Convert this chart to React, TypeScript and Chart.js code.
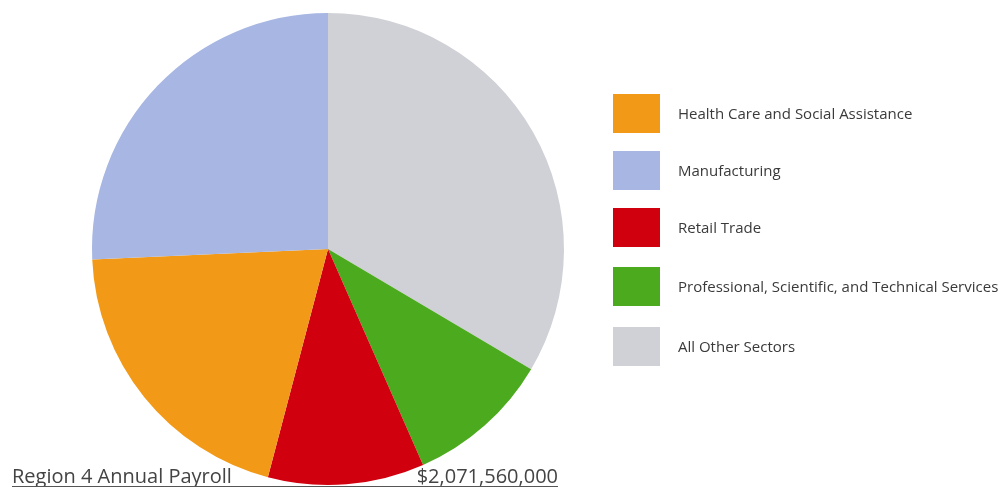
import React, { useEffect, useRef } from "react";
import { Chart, registerables } from "chart.js";

Chart.register(...registerables);

// Slices in clockwise drawing order starting at 12 o'clock
const sliceLabels = [
  "All Other Sectors",
  "Professional, Scientific, and Technical Services",
  "Retail Trade",
  "Health Care and Social Assistance",
  "Manufacturing",
];
const sliceValues = [33.5, 9.9, 10.7, 20.2, 25.7];
const sliceColors = ["#D0D1D6", "#4CAA1E", "#D0000E", "#F29A17", "#A7B6E2"];

// Legend order (indices into slice arrays)
const legendOrder = [3, 4, 2, 1, 0];

const titleLabel = "Region 4 Annual Payroll";
const titleValue = "$2,071,560,000";

const customLegend = {
  id: "customLegend",
  afterDraw(chart: any) {
    const ctx = chart.ctx as CanvasRenderingContext2D;
    ctx.save();
    const rowTops = [94, 151, 208, 267, 327];
    legendOrder.forEach((idx, i) => {
      const top = rowTops[i];
      ctx.fillStyle = sliceColors[idx];
      ctx.fillRect(613, top, 47, 39);
      ctx.fillStyle = "#3a3a3a";
      ctx.font = "15px 'Open Sans'";
      ctx.textBaseline = "middle";
      ctx.textAlign = "left";
      ctx.fillText(sliceLabels[idx], 678, top + 21);
    });
    // bottom title
    ctx.fillStyle = "#444";
    ctx.font = "20px 'Open Sans'";
    ctx.textBaseline = "alphabetic";
    ctx.textAlign = "left";
    ctx.fillText(titleLabel, 12, 483);
    ctx.textAlign = "right";
    ctx.fillText(titleValue, 558, 483);
    ctx.strokeStyle = "#555";
    ctx.lineWidth = 1;
    ctx.beginPath();
    ctx.moveTo(12, 486.5);
    ctx.lineTo(558, 486.5);
    ctx.stroke();
    ctx.restore();
  },
};

export default function App() {
  const ref = useRef<HTMLCanvasElement>(null);
  useEffect(() => {
    if (!ref.current) return;
    const chart = new Chart(ref.current, {
      type: "pie",
      data: {
        labels: sliceLabels,
        datasets: [
          {
            data: sliceValues,
            backgroundColor: sliceColors,
            borderWidth: 0,
          },
        ],
      },
      options: {
        animation: false,
        responsive: false,
        maintainAspectRatio: false,
        layout: { padding: { left: 92, right: 438, top: 13, bottom: 2 } },
        plugins: {
          legend: { display: false },
          tooltip: { enabled: false },
        },
      },
      plugins: [customLegend],
    });
    return () => chart.destroy();
  }, []);
  return (
    <div style={{ position: "fixed", left: 0, top: 0, width: 1002, height: 487, background: "#fff" }}>
      <canvas ref={ref} width={1002} height={487} style={{ width: 1002, height: 487 }} />
    </div>
  );
}
